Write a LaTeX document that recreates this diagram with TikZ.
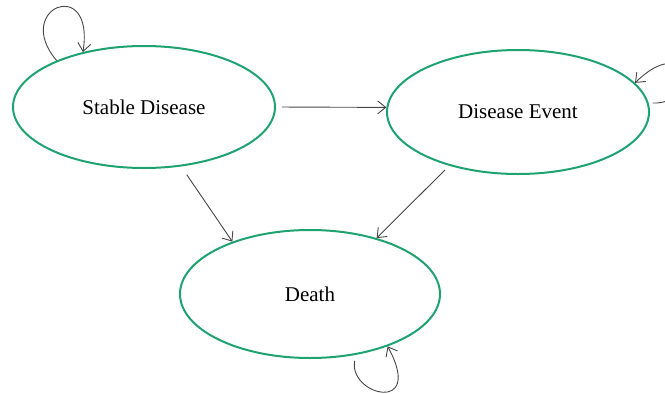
\documentclass[tikz,border=0pt]{standalone}
\usepackage{fontspec}
\setmainfont{Liberation Serif}
\usetikzlibrary{shapes.geometric,arrows.meta,positioning}
\definecolor{stategreen}{RGB}{30,162,112}
\definecolor{arrowgray}{RGB}{70,70,70}

\begin{document}
\begin{tikzpicture}[
  x=1pt, y=-1pt,
  state/.style={ellipse, draw=stategreen, line width=2pt, minimum width=262pt, minimum height=122pt, font=\fontsize{21}{25}\selectfont},
  trans/.style={draw=arrowgray, line width=0.9pt, -{Straight Barb[length=8pt,width=13pt]}}
]
  \useasboundingbox (0,0) rectangle (665,394);

  \node (sd) [state] at (144,107) {Stable Disease};
  \node (ev) [state, right=110pt of sd, yshift=-5pt, minimum height=124pt] {Disease Event};
  \node (de) [state, below=60pt of sd, xshift=166pt, minimum height=128pt, minimum width=260pt] {Death};

  \draw[trans, shorten <=6pt] (sd.east) -- (ev.178);
  \draw[trans, shorten <=10pt] (sd.-58) -- (de.146);
  \draw[trans, shorten <=6pt] (ev.218) -- (de.40);

  % self loops
  \draw[trans] (sd.152) .. controls (12,8) and (95,-25) .. (sd.138);
  \draw[trans, shorten <=4pt] (ev.4) .. controls (700,105) and (690,30) .. (ev.14);
  \draw[trans, shorten <=6pt] (de.-53) .. controls (348,395) and (425,415) .. (de.-34);
\end{tikzpicture}
\end{document}
